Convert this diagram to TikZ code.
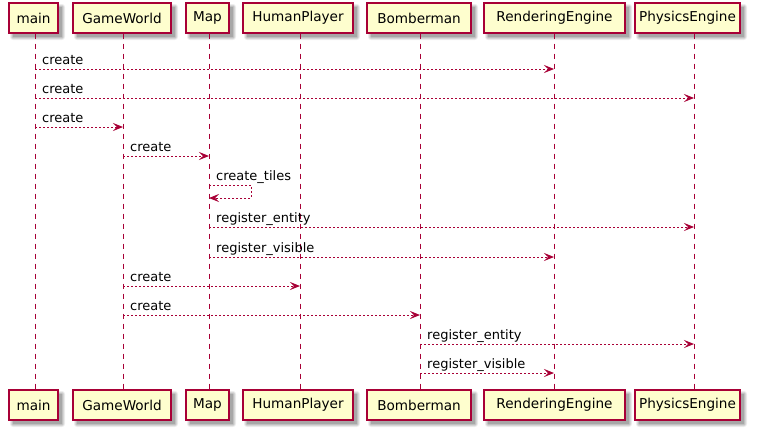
\documentclass[tikz,border=0pt]{standalone}
\usepackage{fontspec}
\setmainfont{DejaVu Sans}
\usetikzlibrary{arrows.meta}
\definecolor{pbord}{HTML}{A80036}
\definecolor{pfill}{HTML}{FEFECE}
\tikzset{
  x=1pt,y=-1pt,
  part/.style={draw=pbord,fill=pfill,line width=1.2pt,minimum height=30pt,inner sep=0pt,font=\fontsize{13.6}{16}\selectfont},
  life/.style={draw=pbord,line width=1pt,dash pattern=on 5pt off 5pt},
  msg/.style={draw=pbord,line width=1pt,dash pattern=on 2pt off 2pt,-{Stealth[length=10pt,width=8pt,inset=4pt,sep=0pt]}},
  lbl/.style={anchor=base west,inner sep=0pt,font=\fontsize{13}{15}\selectfont},
}
\newcommand{\shadowbox}[4]{% x1,y1,x2,y2
  \foreach \k/\o in {3/0.07,2/0.09,1/0.11,0/0.13}{
    \fill[black,opacity=\o,rounded corners=\k pt] (#1+4-\k,#2+4-\k) rectangle (#3+4+\k,#4+4+\k);
  }
}
\begin{document}
\begin{tikzpicture}
\useasboundingbox (0,0) rectangle (759,431);
% shadows
\foreach \a/\b in {9/58,73/171,186/229,243/353,367/471,484/625,635/740}{
  \shadowbox{\a}{3}{\b}{33}
  \shadowbox{\a}{390}{\b}{420}
}
% top participants
\node[part,minimum width=49pt] (tmain) at (33.5,18) {main};
\node[part,minimum width=98pt] (tgw) at (122,18) {GameWorld};
\node[part,minimum width=43pt] (tmap) at (207.5,18) {Map};
\node[part,minimum width=110pt] (thp) at (298,18) {HumanPlayer};
\node[part,minimum width=104pt] (tbm) at (419,18) {Bomberman};
\node[part,minimum width=141pt] (tre) at (554.5,18) {RenderingEngine};
\node[part,minimum width=105pt] (tpe) at (687.5,18) {PhysicsEngine};
% bottom participants
\node[part,minimum width=49pt] (bmain) at (33.5,405) {main};
\node[part,minimum width=98pt] (bgw) at (122,405) {GameWorld};
\node[part,minimum width=43pt] (bmap) at (207.5,405) {Map};
\node[part,minimum width=110pt] (bhp) at (298,405) {HumanPlayer};
\node[part,minimum width=104pt] (bbm) at (419,405) {Bomberman};
\node[part,minimum width=141pt] (bre) at (554.5,405) {RenderingEngine};
\node[part,minimum width=105pt] (bpe) at (687.5,405) {PhysicsEngine};
% lifeline coordinates
\coordinate (lmain) at (35,0);
\coordinate (lgw) at (123,0);
\coordinate (lmap) at (209,0);
\coordinate (lhp) at (300,0);
\coordinate (lbm) at (420,0);
\coordinate (lre) at (554,0);
\coordinate (lpe) at (694,0);
\foreach \l/\t/\b in {lmain/tmain/bmain,lgw/tgw/bgw,lmap/tmap/bmap,lhp/thp/bhp,lbm/tbm/bbm,lre/tre/bre,lpe/tpe/bpe}{
  \draw[life] (\l |- \t.south) -- (\l |- \b.north);
}
% messages
\draw[msg] (lmain |- 0,69) -- (lre |- 0,69);
\node[lbl] (m1) at (42,64) {create};
\draw[msg] (lmain |- 0,98) -- (lpe |- 0,98);
\node[lbl] (m2) at (42,93) {create};
\draw[msg] (lmain |- 0,127) -- (lgw |- 0,127);
\node[lbl] (m3) at (42,122) {create};
\draw[msg] (lgw |- 0,156) -- (lmap |- 0,156);
\node[lbl] (m4) at (130,151) {create};
\coordinate (s1) at (251,185);
\coordinate (s2) at (251,198);
\draw[msg] (lmap |- 0,185) -- (s1) -- (s2) -- (lmap |- 0,198);
\node[lbl] (m5) at (216,180) {create\_tiles};
\draw[msg] (lmap |- 0,227) -- (lpe |- 0,227);
\node[lbl] (m6) at (216,222) {register\_entity};
\draw[msg] (lmap |- 0,257) -- (lre |- 0,257);
\node[lbl] (m7) at (216,252) {register\_visible};
\draw[msg] (lgw |- 0,286) -- (lhp |- 0,286);
\node[lbl] (m8) at (130,281) {create};
\draw[msg] (lgw |- 0,315) -- (lbm |- 0,315);
\node[lbl] (m9) at (130,310) {create};
\draw[msg] (lbm |- 0,344) -- (lpe |- 0,344);
\node[lbl] (m10) at (427,339) {register\_entity};
\draw[msg] (lbm |- 0,373) -- (lre |- 0,373);
\node[lbl] (m11) at (427,368) {register\_visible};
\end{tikzpicture}
\end{document}
